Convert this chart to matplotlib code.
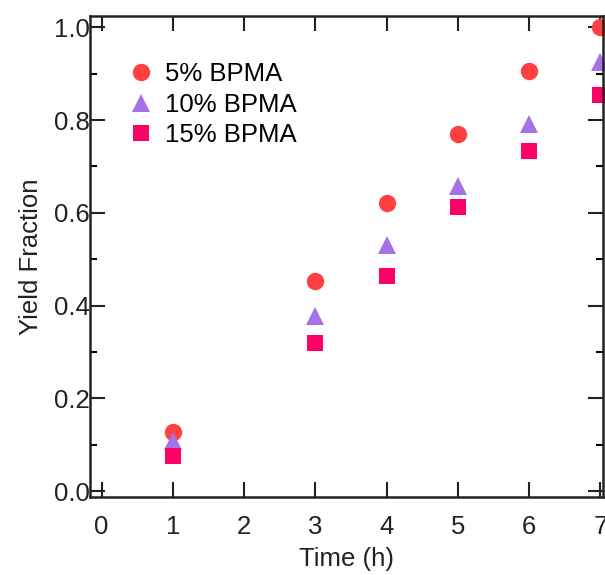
import matplotlib
matplotlib.use("Agg")
import matplotlib.pyplot as plt
from matplotlib.ticker import MultipleLocator

plt.rcParams['font.family'] = ['Liberation Sans', 'DejaVu Sans']

time_h = [1, 3, 4, 5, 6, 7]
bpma5 = [0.128, 0.453, 0.621, 0.770, 0.905, 1.000]
bpma10 = [0.108, 0.377, 0.531, 0.657, 0.791, 0.924]
bpma15 = [0.075, 0.320, 0.464, 0.613, 0.733, 0.854]
labels = ["5% BPMA", "10% BPMA", "15% BPMA"]

fig = plt.figure(figsize=(6.05, 5.75), dpi=100)
ax = fig.add_axes([0.149, 0.136, 0.848, 0.836])

ax.plot(time_h, bpma5, 'o', color='#FF4040', markersize=12.5, markeredgewidth=0, label=labels[0], clip_on=False)
ax.plot(time_h, bpma10, '^', color='#A571E6', markersize=13.5, markeredgewidth=0, label=labels[1], clip_on=False)
ax.plot(time_h, bpma15, 's', color='#FF0066', markersize=11.5, markeredgewidth=0, label=labels[2], clip_on=False)

ax.set_xlim(-0.16, 7.04)
ax.set_ylim(-0.012, 1.024)
ax.xaxis.set_major_locator(MultipleLocator(1))
ax.yaxis.set_major_locator(MultipleLocator(0.2))
ax.yaxis.set_minor_locator(MultipleLocator(0.1))
ax.yaxis.set_major_formatter(matplotlib.ticker.FormatStrFormatter('%.1f'))

ax.tick_params(which='major', direction='in', length=11, width=1.5, top=True, right=True, labelsize=18.5, colors='#222222')
ax.tick_params(axis='x', which='major', pad=13)
ax.tick_params(axis='y', which='major', pad=0)
ax.tick_params(which='minor', direction='in', length=5, width=1.5, top=True, right=True)
for s in ax.spines.values():
    s.set_linewidth(1.8)
    s.set_color('#222222')

ax.set_xlabel("Time (h)", fontsize=18.5, color='#222222', labelpad=6)
ax.set_ylabel("Yield Fraction", fontsize=18.5, color='#222222', labelpad=8)

ax.legend(loc='upper left', bbox_to_anchor=(0.05, 0.925), frameon=False, fontsize=18.5,
          handletextpad=0.3, labelspacing=0.25, borderaxespad=0, handlelength=1.2)

fig.savefig("out.png", dpi=100)
